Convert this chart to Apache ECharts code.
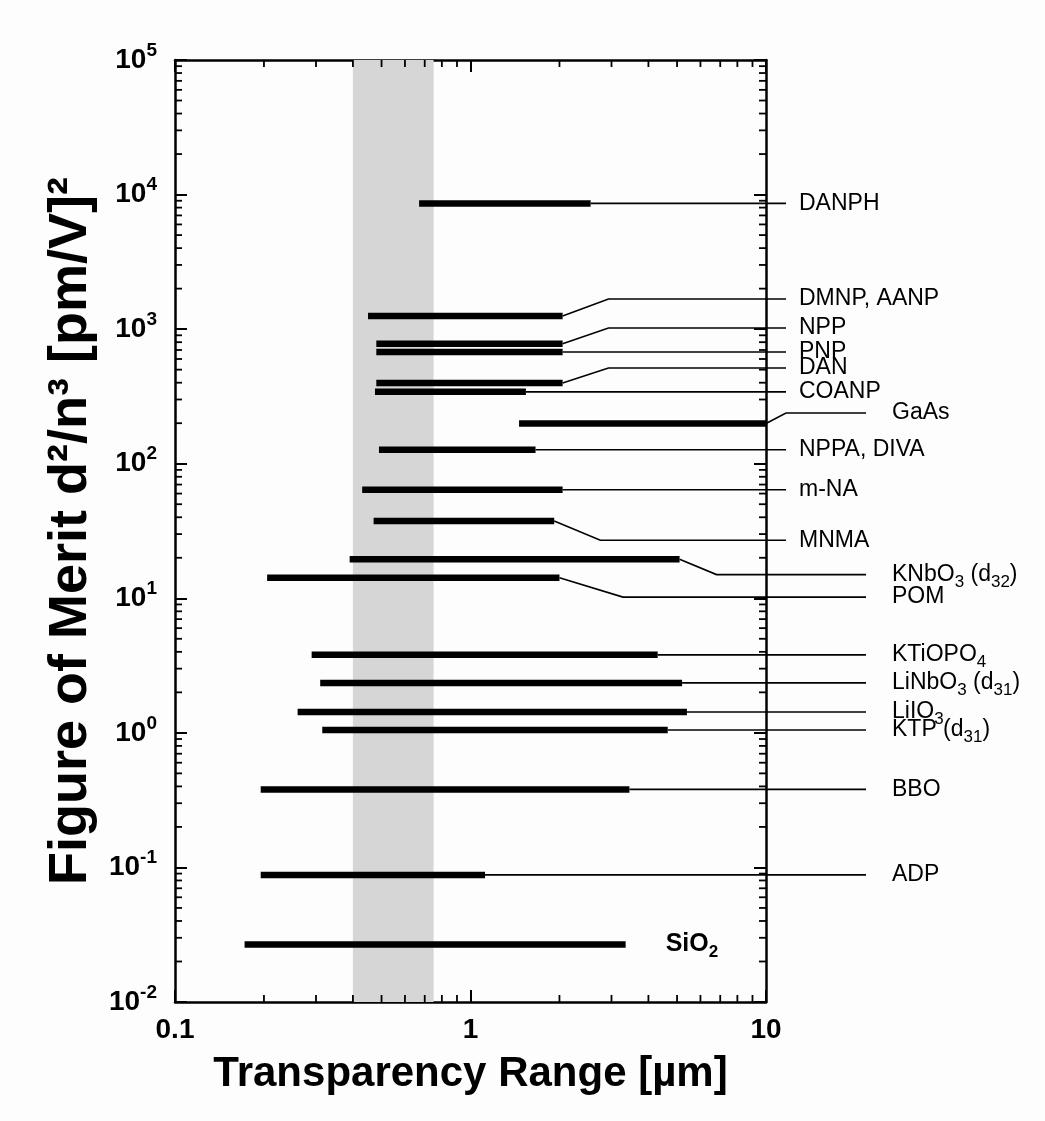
<!DOCTYPE html>
<html><head><meta charset="utf-8">
<script src="https://cdn.jsdelivr.net/npm/echarts@6/dist/echarts.min.js"></script>
<style>html,body{margin:0;padding:0;background:#fdfdfe}#c{width:1045px;height:1121px}</style>
</head><body><div id="c"></div><script>
// ---- data ----
const materials = ['DANPH','DMNP, AANP','NPP','PNP','DAN','COANP','GaAs','NPPA, DIVA','m-NA','MNMA','KNbO3 (d32)','POM','KTiOPO4','LiNbO3 (d31)','LiIO3','KTP (d31)','BBO','ADP','SiO2'];
const labelRich = ['{t|DANPH}','{t|DMNP, AANP}','{t|NPP}','{t|PNP}','{t|DAN}','{t|COANP}','{t|GaAs}','{t|NPPA, DIVA}','{t|m-NA}','{t|MNMA}',
  '{t|KNbO}{s|3}{t| (d}{s|32}{t|)}','{t|POM}','{t|KTiOPO}{s|4}','{t|LiNbO}{s|3}{t| (d}{s|31}{t|)}','{t|LiIO}{s|3}','{t|KTP (d}{s|31}{t|)}','{t|BBO}','{t|ADP}','{b|SiO}{bs|2}'];
const rangeStartUm = [0.67,0.45,0.48,0.48,0.48,0.475,1.46,0.49,0.43,0.47,0.39,0.205,0.29,0.31,0.26,0.315,0.195,0.195,0.172];
const rangeEndUm   = [2.55,2.05,2.05,2.05,2.05,1.54,10,1.66,2.05,1.92,5.1,2.0,4.3,5.2,5.4,4.65,3.45,1.12,3.35];
const figureOfMerit = [8600,1250,780,677,398,342,199,127,64,37.5,19.5,14.2,3.8,2.35,1.43,1.05,0.38,0.088,0.0268];
const leaderFom     = [8600,1675,1020,677,515,342,238,127,64,27,15,10.2,3.8,2.35,1.43,1.05,0.38,0.088,0.0268];
const visibleBandUm = [0.4, 0.75];
const xTickLabels = {0.1:'0.1', 1:'1', 10:'10'};

// ---- layout (label placement) ----
const labelSide = ['near','near','near','near','near','near','far','near','near','near','far','far','far','far','far','far','far','far','in'];
const bendUm = [null,2.93,2.93,null,2.93,null,'axis',null,null,2.75,6.8,3.28,null,null,null,null,null,null,null];

const xMinor = [], yMinor = [];
for (let k=-1;k<=0;k++) for (let m=2;m<=9;m++) xMinor.push(m*Math.pow(10,k));
for (let k=-2;k<=4;k++) for (let m=2;m<=9;m++) yMinor.push(m*Math.pow(10,k));

const chart = echarts.init(document.getElementById('c'), null, {renderer:'canvas'});
const FONT = 'Liberation Sans, Arial, Helvetica, sans-serif';
const richLbl = {
  t:{fontSize:23, fontFamily:FONT, color:'#000', lineHeight:32},
  s:{fontSize:17, fontFamily:FONT, color:'#000', lineHeight:17, verticalAlign:'bottom'},
  b:{fontSize:25, fontFamily:FONT, fontWeight:'bold', color:'#000', lineHeight:32},
  bs:{fontSize:17, fontFamily:FONT, fontWeight:'bold', color:'#000', lineHeight:17, verticalAlign:'bottom'}
};

function renderBar(params, api){
  const i = params.dataIndex;
  const p1 = api.coord([rangeStartUm[i], figureOfMerit[i]]);
  const p2 = api.coord([rangeEndUm[i], figureOfMerit[i]]);
  const ax = api.coord([10, leaderFom[i]]);
  const children = [{type:'line', shape:{x1:p1[0],y1:p1[1],x2:p2[0],y2:p2[1]}, style:{stroke:'#000', lineWidth:6.5, lineCap:'butt'}}];
  const side = labelSide[i];
  if (side === 'in') {
    children.push({type:'text', x:p2[0]+40, y:p2[1], style:{text:labelRich[i], rich:richLbl, align:'left', verticalAlign:'middle'}});
  } else {
    const endX = ax[0] + (side==='near' ? 20 : 100);
    const textX = ax[0] + (side==='near' ? 33 : 126);
    const pts = [[p2[0],p2[1]]];
    const b = bendUm[i];
    if (b === 'axis') pts.push([ax[0]+20, ax[1]]);
    else if (b) pts.push(api.coord([b, leaderFom[i]]));
    pts.push([endX, ax[1]]);
    children.push({type:'polyline', shape:{points:pts}, style:{stroke:'#000', lineWidth:1.6, fill:null}});
    children.push({type:'text', x:textX, y:ax[1], style:{text:labelRich[i], rich:richLbl, align:'left', verticalAlign:'middle'}});
  }
  return {type:'group', children};
}

function renderMinor(params, api){
  const children = [];
  const L=7, st={stroke:'#000', lineWidth:1.8};
  yMinor.forEach(v=>{
    const a = api.coord([0.1, v]), b = api.coord([10, v]);
    children.push({type:'line', shape:{x1:a[0],y1:a[1],x2:a[0]+L,y2:a[1]}, style:st});
    children.push({type:'line', shape:{x1:b[0],y1:b[1],x2:b[0]-L,y2:b[1]}, style:st});
  });
  xMinor.forEach(v=>{
    const a = api.coord([v, 0.01]), b = api.coord([v, 1e5]);
    children.push({type:'line', shape:{x1:a[0],y1:a[1],x2:a[0],y2:a[1]-L}, style:st});
    children.push({type:'line', shape:{x1:b[0],y1:b[1],x2:b[0],y2:b[1]+L}, style:st});
  });
  return {type:'group', children};
}

const axisCommon = {
  type:'log', logBase:10,
  axisLine:{show:true, lineStyle:{color:'#000', width:2.5}},
  axisTick:{show:true, inside:true, length:12, lineStyle:{color:'#000', width:2}},
  splitLine:{show:false}, minorTick:{show:false}, minorSplitLine:{show:false}
};

chart.setOption({
  backgroundColor:'#fdfdfe',
  animation:false,
  grid:{left:175, right:279, top:60, bottom:119},
  xAxis:[
    Object.assign({}, axisCommon, {position:'bottom', min:0.1, max:10,
      name:'Transparency Range [µm]', nameLocation:'middle', nameGap:51,
      nameTextStyle:{fontSize:42, fontWeight:'bold', fontFamily:FONT, color:'#000'},
      axisLabel:{show:true, margin:14, fontSize:28, fontWeight:'bold', fontFamily:FONT, color:'#000',
        formatter:v=>xTickLabels[v] || ''}}),
    Object.assign({}, axisCommon, {position:'top', min:0.1, max:10, axisLabel:{show:false}})
  ],
  yAxis:[
    Object.assign({}, axisCommon, {position:'left', min:0.01, max:1e5,
      name:'Figure of Merit d²/n³ [pm/V]²', nameLocation:'middle', nameGap:73,
      nameTextStyle:{fontSize:54, fontWeight:'bold', fontFamily:FONT, color:'#000'},
      axisLabel:{show:true, margin:18, fontFamily:FONT, color:'#000',
        formatter:v=>'{b|10}{p|'+Math.round(Math.log10(v))+'}',
        rich:{b:{fontSize:28, fontWeight:'bold', fontFamily:FONT, color:'#000', lineHeight:38},
              p:{fontSize:19, fontWeight:'bold', fontFamily:FONT, color:'#000', lineHeight:19, verticalAlign:'top'}}}}),
    Object.assign({}, axisCommon, {position:'right', min:0.01, max:1e5, axisLabel:{show:false}})
  ],
  series:[
    {type:'line', data:[[1,1]], symbol:'none', lineStyle:{opacity:0}, silent:true, z:1,
      markArea:{silent:true, itemStyle:{color:'#d6d6d6'},
        data:[[{xAxis:visibleBandUm[0], yAxis:0.01},{xAxis:visibleBandUm[1], yAxis:1e5}]]}},
    {type:'custom', data:[[1,1]], renderItem:renderMinor, clip:false, silent:true, z:3},
    {type:'custom', data:materials.map((m,i)=>[rangeStartUm[i], figureOfMerit[i]]),
      renderItem:renderBar, clip:false, silent:true, z:5}
  ]
});
</script></body></html>
